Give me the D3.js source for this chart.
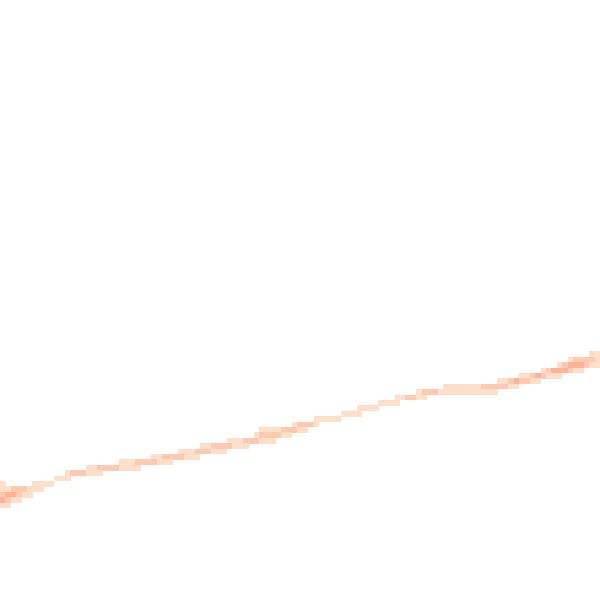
<!DOCTYPE html>
<html>
<head>
<meta charset="utf-8">
<script src="https://cdn.jsdelivr.net/npm/d3@7"></script>
<style>
  body { margin: 0; background: #fff; }
  svg { display: block; }
</style>
</head>
<body>
<svg id="mainsvg" width="600" height="600"></svg>
<script>
// grid is 111 x 111 cells, only the non-empty ones are listed
const gridSize = 111

// each run: row index, first column, then one value per cell going right
const runRows = [65, 66, 67, 68, 69, 70, 71, 72, 73, 74, 75, 76, 77, 78, 79, 80, 81, 82, 83, 84, 85, 86, 87, 88, 89, 89, 90, 91, 92, 93]
const runStarts = [109, 105, 103, 100, 96, 92, 82, 77, 73, 70, 66, 63, 58, 54, 48, 47, 42, 37, 33, 28, 22, 16, 12, 10, 0, 6, 0, 0, 0, 0]
const runValues = [
    [1, 1],
    [1, 2, 2, 2, 2, 1],
    [1, 2, 3, 3, 3, 2, 1, 1],
    [1, 2, 3, 3, 3, 2, 1, 1],
    [1, 1, 2, 3, 2, 1, 1, 1],
    [1, 1, 2, 3, 2, 2, 1, 1],
    [1, 1, 1, 1, 1, 1, 1, 2, 2, 2, 2, 2, 1, 1],
    [1, 2, 2, 2, 1, 1, 1, 1, 1, 1, 1, 1, 1, 1, 1],
    [1, 1, 2, 2, 1, 1],
    [1, 1, 1, 1],
    [1, 1, 1, 1],
    [1, 1, 1, 1],
    [1, 1, 1, 1, 1],
    [1, 2, 2, 2, 1],
    [1, 1, 1, 1, 2, 2, 2, 1, 1],
    [1, 2, 2, 2, 2, 1, 1],
    [1, 1, 1, 2, 2, 2, 1, 1, 1],
    [1, 1, 2, 2, 2, 2, 1, 1, 1],
    [1, 1, 1, 2, 2, 2, 1, 1, 1],
    [1, 1, 2, 2, 2, 2, 1, 1, 1],
    [1, 1, 1, 2, 2, 2, 2, 1, 1, 1],
    [1, 1, 2, 2, 2, 2, 1, 1, 1, 1],
    [1, 2, 2, 2, 1, 1, 1],
    [1, 1, 1],
    [1],
    [1, 1, 1, 1],
    [1, 1, 2, 2, 2, 1, 1, 1],
    [2, 3, 3, 2, 1, 1],
    [3, 2, 1, 1],
    [1, 1]
]

let width = 600
let height = 600

// flatten runs to cells
let cells = []
runRows.forEach((r, i) => {
    runValues[i].forEach((v, k) => {
        cells.push({row: r, col: runStarts[i] + k, value: v})
    })
})

const x = d3.scaleBand().domain(d3.range(gridSize)).range([0, width])
const y = d3.scaleBand().domain(d3.range(gridSize)).range([0, height])
const color = d3.scaleLinear()
    .domain([1, 2, 3])
    .range(['#fedfca', '#fdcab1', '#fcb398'])
    .interpolate(d3.interpolateLab)

const g = d3.select('#mainsvg').append('g')

g.selectAll('rect')
    .data(cells)
    .join('rect')
    .attr('x', d => x(d.col))
    .attr('y', d => y(d.row))
    .attr('width', x.bandwidth() + 0.3)
    .attr('height', y.bandwidth() + 0.3)
    .attr('fill', d => color(d.value))
    .attr('shape-rendering', 'crispEdges')
</script>
</body>
</html>
